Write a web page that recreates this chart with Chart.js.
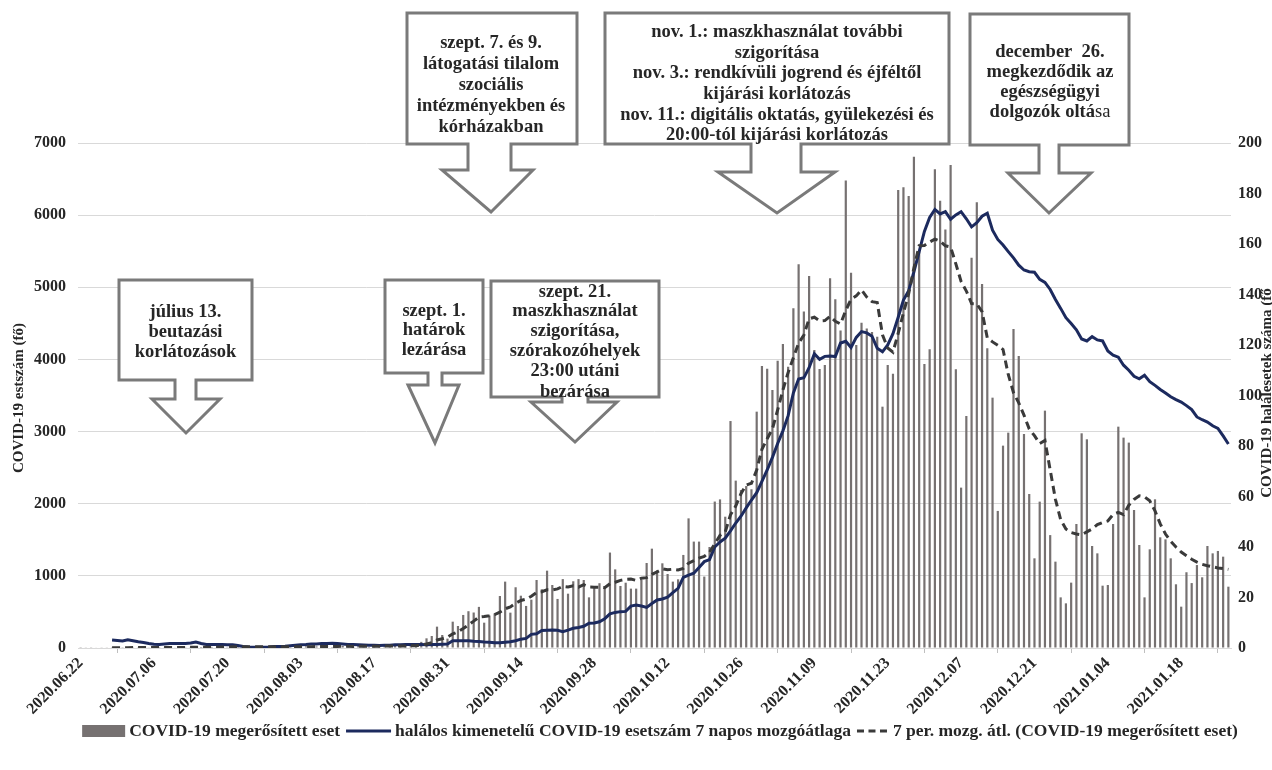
<!DOCTYPE html>
<html>
<head>
<meta charset="utf-8">
<script src="https://cdn.jsdelivr.net/npm/chart.js@4.4.1/dist/chart.umd.min.js"></script>
<style>
  html, body { margin: 0; padding: 0; background: #fff; overflow: hidden; }
  #wrap { width: 1272px; height: 770px; position: relative; }
</style>
</head>
<body>
<div id="wrap"><canvas id="c"></canvas></div>
<script>
// x axis: one category per day, 2020.06.22 - 2021.01.27
const tickLabels = ["2020.06.22", "2020.07.06", "2020.07.20", "2020.08.03", "2020.08.17", "2020.08.31",
  "2020.09.14", "2020.09.28", "2020.10.12", "2020.10.26", "2020.11.09", "2020.11.23",
  "2020.12.07", "2020.12.21", "2021.01.04", "2021.01.18"];

// daily confirmed cases (left axis)
const casesJun = [3, 5, 4, 6, 9, 5, 4, 2, 3];
const casesJul = [7, 4, 10, 3, 5, 2, 11, 9, 12, 8, 6, 4, 2, 11, 14, 9, 15, 12, 8, 4, 18, 21, 16, 19, 28, 13, 10, 22, 17, 15, 20];
const casesAug = [11, 8, 29, 24, 17, 22, 21, 26, 12, 23, 29, 17, 19, 33, 26, 14, 22, 43, 28, 31, 34, 15, 26, 48, 40, 85, 134, 166, 296, 180, 130];
const casesSep = [365, 305, 458, 510, 492, 570, 351, 450, 480, 721, 920, 490, 842, 725, 583, 670, 943, 814, 1072, 873, 680, 955, 753, 925, 955, 943, 702, 830, 898, 830];
const casesOct = [1323, 1090, 860, 905, 823, 823, 943, 1178, 1377, 1077, 1174, 1026, 920, 952, 1290, 1797, 1475, 1475, 990, 1400, 2030, 2060, 1820, 3146, 2320, 2190, 2245, 2200, 3276, 3909, 3872];
const casesNov = [3577, 3983, 4214, 3900, 4709, 5320, 4663, 5157, 4131, 3868, 3923, 5125, 4834, 4400, 6480, 5203, 4200, 4510, 4430, 4380, 4316, 3345, 3923, 3800, 6350, 6387, 6266, 6811, 5500, 3937];
const casesDec = [4140, 6636, 6200, 5800, 6696, 3863, 2223, 3216, 5411, 6178, 5046, 4154, 3470, 1900, 2805, 2985, 4422, 4048, 2966, 2135, 1243, 2029, 3290, 1565, 1197, 702, 619, 906, 1719, 2976, 2893];
const casesJan = [1414, 1312, 864, 873, 1719, 3068, 2916, 2847, 1913, 1428, 702, 1368, 2061, 1534, 1506, 1243, 883, 573, 1050, 900, 1150, 980, 1414, 1312, 1345, 1266, 850];

// 7 per. moving average of cases (left axis), dashed
const avgJun = [null, null, null, null, null, null, 5, 5, 5];
const avgJul = [5, 6, 6, 6, 7, 7, 7, 8, 8, 8, 8, 8, 9, 9, 10, 10, 11, 12, 13, 14, 16, 17, 17, 18, 19, 18, 18, 17, 18, 19, 18];
const avgAug = [17, 16, 18, 19, 19, 20, 21, 22, 21, 22, 24, 23, 22, 23, 25, 24, 23, 25, 26, 27, 28, 27, 26, 30, 32, 40, 55, 75, 112, 128, 150];
const avgSep = [195, 224, 270, 320, 372, 428, 436, 448, 464, 497, 543, 569, 620, 658, 676, 718, 768, 780, 807, 806, 819, 855, 846, 862, 843, 877, 845, 843, 841, 836];
const avgOct = [891, 912, 937, 952, 955, 938, 967, 975, 1022, 1054, 1098, 1085, 1092, 1081, 1102, 1176, 1210, 1247, 1271, 1326, 1446, 1561, 1610, 1846, 1968, 2140, 2259, 2283, 2467, 2755, 2900];
const avgNov = [3038, 3300, 3576, 3819, 4023, 4225, 4338, 4564, 4585, 4535, 4539, 4598, 4529, 4491, 4680, 4833, 4881, 4965, 4865, 4800, 4788, 4341, 4158, 4101, 4363, 4643, 4912, 5269, 5577, 5579];
const avgDec = [5627, 5668, 5641, 5575, 5558, 5325, 5080, 4948, 4773, 4770, 4662, 4299, 4243, 4196, 4138, 3791, 3540, 3398, 3228, 3037, 2943, 2833, 2876, 2468, 2061, 1780, 1650, 1600, 1580, 1570, 1610];
const avgJan = [1650, 1710, 1740, 1760, 1850, 1880, 1850, 1980, 2060, 2109, 2095, 2040, 1900, 1720, 1580, 1480, 1400, 1330, 1280, 1230, 1190, 1160, 1140, 1125, 1110, 1100, 1090];

// deaths, 7 day moving average (right axis)
const deathJun = [null, null, null, null, null, null, 3.2, 3.0, 2.8];
const deathJul = [3.3, 2.9, 2.5, 2.2, 1.8, 1.5, 1.4, 1.6, 1.8, 1.8, 1.8, 1.8, 2.0, 2.4, 1.8, 1.4, 1.4, 1.4, 1.4, 1.3, 1.3, 1.0, 0.6, 0.4, 0.3, 0.3, 0.3, 0.4, 0.6, 0.6, 0.7];
const deathAug = [0.9, 1.1, 1.3, 1.4, 1.6, 1.6, 1.8, 1.8, 1.9, 1.8, 1.6, 1.4, 1.4, 1.3, 1.2, 1.1, 1.1, 1.0, 1.1, 1.1, 1.3, 1.3, 1.4, 1.4, 1.4, 1.4, 1.3, 1.4, 1.4, 1.5, 1.6];
const deathSep = [2.9, 2.9, 2.9, 2.9, 2.7, 2.6, 2.4, 2.3, 2.1, 2.1, 2.3, 2.5, 2.9, 3.5, 3.8, 5.4, 5.6, 6.9, 7.0, 7.1, 7.0, 6.5, 7.1, 7.8, 8.1, 8.6, 9.8, 9.9, 10.4, 11.6];
const deathOct = [13.5, 14.1, 14.4, 14.5, 16.6, 17.0, 16.6, 16.1, 17.6, 19.0, 19.4, 20.1, 21.9, 23.6, 28.0, 28.9, 29.6, 31.9, 34.2, 35.0, 40.0, 42.0, 43.5, 46.4, 49.5, 52.2, 55.5, 58.6, 61.5, 66.0, 70.5];
const deathNov = [75.5, 81.0, 86.0, 92.0, 101.0, 106.5, 107.0, 111.0, 116.5, 114.3, 115.5, 115.6, 115.4, 120.8, 121.5, 119.0, 123.0, 125.3, 124.8, 123.5, 118.7, 117.3, 120.0, 124.5, 131.0, 137.8, 141.5, 149.0, 157.0, 165.0];
const deathDec = [170.5, 173.7, 171.9, 172.8, 169.8, 171.5, 172.8, 170.0, 166.8, 168.4, 171.0, 172.2, 165.5, 161.8, 159.6, 157.0, 154.5, 151.6, 149.7, 149.0, 148.8, 146.0, 144.8, 142.0, 138.0, 134.5, 130.8, 128.5, 126.0, 122.4, 121.6];
const deathJan = [123.3, 122.0, 121.6, 117.6, 116.0, 115.2, 112.0, 110.0, 107.6, 106.6, 108.0, 105.5, 104.0, 102.4, 101.0, 99.5, 98.4, 97.4, 96.0, 94.4, 91.5, 90.4, 89.5, 88.0, 87.0, 84.0, 80.8];

const cases = [].concat(casesJun, casesJul, casesAug, casesSep, casesOct, casesNov, casesDec, casesJan);
const casesAvg = [].concat(avgJun, avgJul, avgAug, avgSep, avgOct, avgNov, avgDec, avgJan);
const deathsAvg = [].concat(deathJun, deathJul, deathAug, deathSep, deathOct, deathNov, deathDec, deathJan);

const days = [];
for (let i = 0; i < cases.length; i++) {
  const d = new Date(Date.UTC(2020, 5, 22 + i));
  days.push(d.getUTCFullYear() + "." + String(d.getUTCMonth() + 1).padStart(2, "0") + "." + String(d.getUTCDate()).padStart(2, "0"));
}

const FONT = "'Liberation Serif', 'Times New Roman', serif";
const TXT = "#262626";
const GRAY = "#767171";
const BLUE = "#1c2a5e";
const DASH = "#3a3a3a";

// callout boxes (Excel down-arrow callouts)
const callouts = [
  { l: 119, r: 252, t: 280, b: 380, sl: 175, sr: 196, sb: 399, hl: 152, hr: 220, tx: 186, ty: 433, cx: 185.5,
    ys: [312, 332, 352], lines: ["július 13.", "beutazási", "korlátozások"] },
  { l: 385, r: 483, t: 280, b: 373, sl: 428, sr: 442, sb: 385, hl: 408, hr: 459, tx: 435, ty: 443, cx: 434,
    ys: [311, 330, 350], lines: ["szept. 1.", "határok", "lezárása"] },
  { l: 491, r: 659, t: 281, b: 397, sl: 562, sr: 588, sb: 402, hl: 531, hr: 617, tx: 575, ty: 442, cx: 575,
    ys: [292, 311, 331, 351, 371, 392], lines: ["szept. 21.", "maszkhasználat", "szigorítása,", "szórakozóhelyek", "23:00 utáni", "bezárása"] },
  { l: 407, r: 577, t: 13, b: 144, sl: 468, sr: 511, sb: 170, hl: 442, hr: 533, tx: 491, ty: 212, cx: 491,
    ys: [43, 64, 85, 106, 127], lines: ["szept. 7. és 9.", "látogatási tilalom", "szociális", "intézményekben és", "kórházakban"] },
  { l: 605, r: 949, t: 13, b: 144, sl: 751, sr: 801, sb: 172, hl: 718, hr: 835, tx: 777, ty: 213, cx: 777,
    ys: [32, 53, 73, 94, 115, 135], lines: ["nov. 1.: maszkhasználat további", "szigorítása", "nov. 3.: rendkívüli jogrend és éjféltől", "kijárási korlátozás", "nov. 11.: digitális oktatás, gyülekezési és", "20:00-tól kijárási korlátozás"] },
  { l: 970, r: 1129, t: 14, b: 145, sl: 1039, sr: 1059, sb: 173, hl: 1008, hr: 1091, tx: 1049, ty: 213, cx: 1050,
    ys: [52, 72, 92, 112], lines: ["december  26.", "megkezdődik az", "egészségügyi", [["dolgozók oltá", "bold"], ["sa", "normal"]]] }
];

function drawCallout(ctx, c) {
  ctx.beginPath();
  ctx.moveTo(c.l, c.t);
  ctx.lineTo(c.r, c.t);
  ctx.lineTo(c.r, c.b);
  ctx.lineTo(c.sr, c.b);
  ctx.lineTo(c.sr, c.sb);
  ctx.lineTo(c.hr, c.sb);
  ctx.lineTo(c.tx, c.ty);
  ctx.lineTo(c.hl, c.sb);
  ctx.lineTo(c.sl, c.sb);
  ctx.lineTo(c.sl, c.b);
  ctx.lineTo(c.l, c.b);
  ctx.closePath();
  ctx.fillStyle = "#fff";
  ctx.fill();
  ctx.lineWidth = 3;
  ctx.lineJoin = "miter";
  ctx.strokeStyle = "#7a7a7a";
  ctx.stroke();

  ctx.fillStyle = TXT;
  ctx.textBaseline = "middle";
  c.lines.forEach((line, i) => {
    const segs = typeof line === "string" ? [[line, "bold"]] : line;
    let w = 0;
    segs.forEach(s => { ctx.font = s[1] + " 18.5px " + FONT; w += ctx.measureText(s[0]).width; });
    let x = c.cx - w / 2;
    ctx.textAlign = "left";
    segs.forEach(s => {
      ctx.font = s[1] + " 18.5px " + FONT;
      ctx.fillText(s[0], x, c.ys[i]);
      x += ctx.measureText(s[0]).width;
    });
  });
}

function drawLegend(ctx, chart) {
  const ds = chart.data.datasets;
  const items = [
    { kind: "bar", w: 43, text: ds[2].label },
    { kind: "line", w: 45, text: ds[0].label },
    { kind: "dash", w: 32, text: ds[1].label }
  ];
  const y = 731;
  ctx.font = "bold 17.5px " + FONT;
  const gap = 4, itemGap = 6;
  let total = 0;
  items.forEach(it => { total += it.w + gap + ctx.measureText(it.text).width; });
  total += itemGap * (items.length - 1);
  let x = 660 - total / 2;
  items.forEach(it => {
    if (it.kind === "bar") {
      ctx.fillStyle = GRAY;
      ctx.fillRect(x, y - 6, it.w, 12);
    } else {
      ctx.beginPath();
      ctx.lineWidth = 3;
      ctx.strokeStyle = it.kind === "line" ? BLUE : DASH;
      ctx.setLineDash(it.kind === "dash" ? [7, 4.5] : []);
      ctx.moveTo(x, y);
      ctx.lineTo(x + it.w, y);
      ctx.stroke();
      ctx.setLineDash([]);
    }
    x += it.w + gap;
    ctx.fillStyle = TXT;
    ctx.textAlign = "left";
    ctx.textBaseline = "middle";
    ctx.fillText(it.text, x, y);
    x += ctx.measureText(it.text).width + itemGap;
  });
}

const overlay = {
  id: "overlay",
  afterDraw(chart) {
    const ctx = chart.ctx;
    ctx.save();
    callouts.forEach(c => drawCallout(ctx, c));

    ctx.font = "bold 15px " + FONT;
    ctx.fillStyle = TXT;
    ctx.textAlign = "center";
    ctx.textBaseline = "middle";
    ctx.save();
    ctx.translate(19, 398);
    ctx.rotate(-Math.PI / 2);
    ctx.fillText("COVID-19 estszám (fő)", 0, 0);
    ctx.restore();
    ctx.save();
    ctx.translate(1267, 393);
    ctx.rotate(-Math.PI / 2);
    ctx.fillText("COVID-19 halálesetek száma (fő", 0, 0);
    ctx.restore();

    drawLegend(ctx, chart);
    ctx.restore();
  }
};

const tickFont = { family: FONT, size: 16, weight: "bold" };

new Chart(document.getElementById("c"), {
  data: {
    labels: days,
    datasets: [
      { type: "line", label: "halálos kimenetelű COVID-19 esetszám 7 napos mozgóátlaga", data: deathsAvg, yAxisID: "y2",
        borderColor: BLUE, borderWidth: 3, pointRadius: 0, tension: 0, order: 2 },
      { type: "line", label: "7 per. mozg. átl. (COVID-19 megerősített eset)", data: casesAvg, yAxisID: "y",
        borderColor: DASH, borderWidth: 3, borderDash: [8, 5], pointRadius: 0, tension: 0, order: 1 },
      { type: "bar", label: "COVID-19 megerősített eset", data: cases, yAxisID: "y",
        backgroundColor: GRAY, barPercentage: 0.42, categoryPercentage: 1, order: 3 }
    ]
  },
  options: {
    responsive: true,
    maintainAspectRatio: false,
    devicePixelRatio: 1,
    animation: false,
    layout: { padding: { top: 143, left: 0, right: 0, bottom: 0 } },
    plugins: { legend: { display: false }, tooltip: { enabled: false } },
    scales: {
      x: {
        type: "category",
        offset: true,
        grid: { offset: true, drawOnChartArea: false, drawTicks: true, tickLength: 5, color: "#bfbfbf" },
        border: { color: "#d9d9d9" },
        ticks: {
          autoSkip: false, minRotation: 45, maxRotation: 45, padding: 1,
          font: tickFont, color: TXT,
          callback: (v, i) => (i % 14 === 0 ? tickLabels[i / 14] : null)
        },
        afterFit: s => { s.height = 122; }
      },
      y: {
        position: "left", min: 0, max: 7000,
        ticks: { stepSize: 1000, padding: 12, font: tickFont, color: TXT, callback: v => String(v) },
        grid: { color: "#d9d9d9", drawTicks: false },
        border: { display: false },
        afterFit: s => { s.width = 78; }
      },
      y2: {
        position: "right", min: 0, max: 200,
        ticks: { stepSize: 20, padding: 7, font: tickFont, color: TXT, callback: v => String(v) },
        grid: { drawOnChartArea: false, drawTicks: false },
        border: { display: false },
        afterFit: s => { s.width = 41; }
      }
    }
  },
  plugins: [overlay]
});
</script>
</body>
</html>
